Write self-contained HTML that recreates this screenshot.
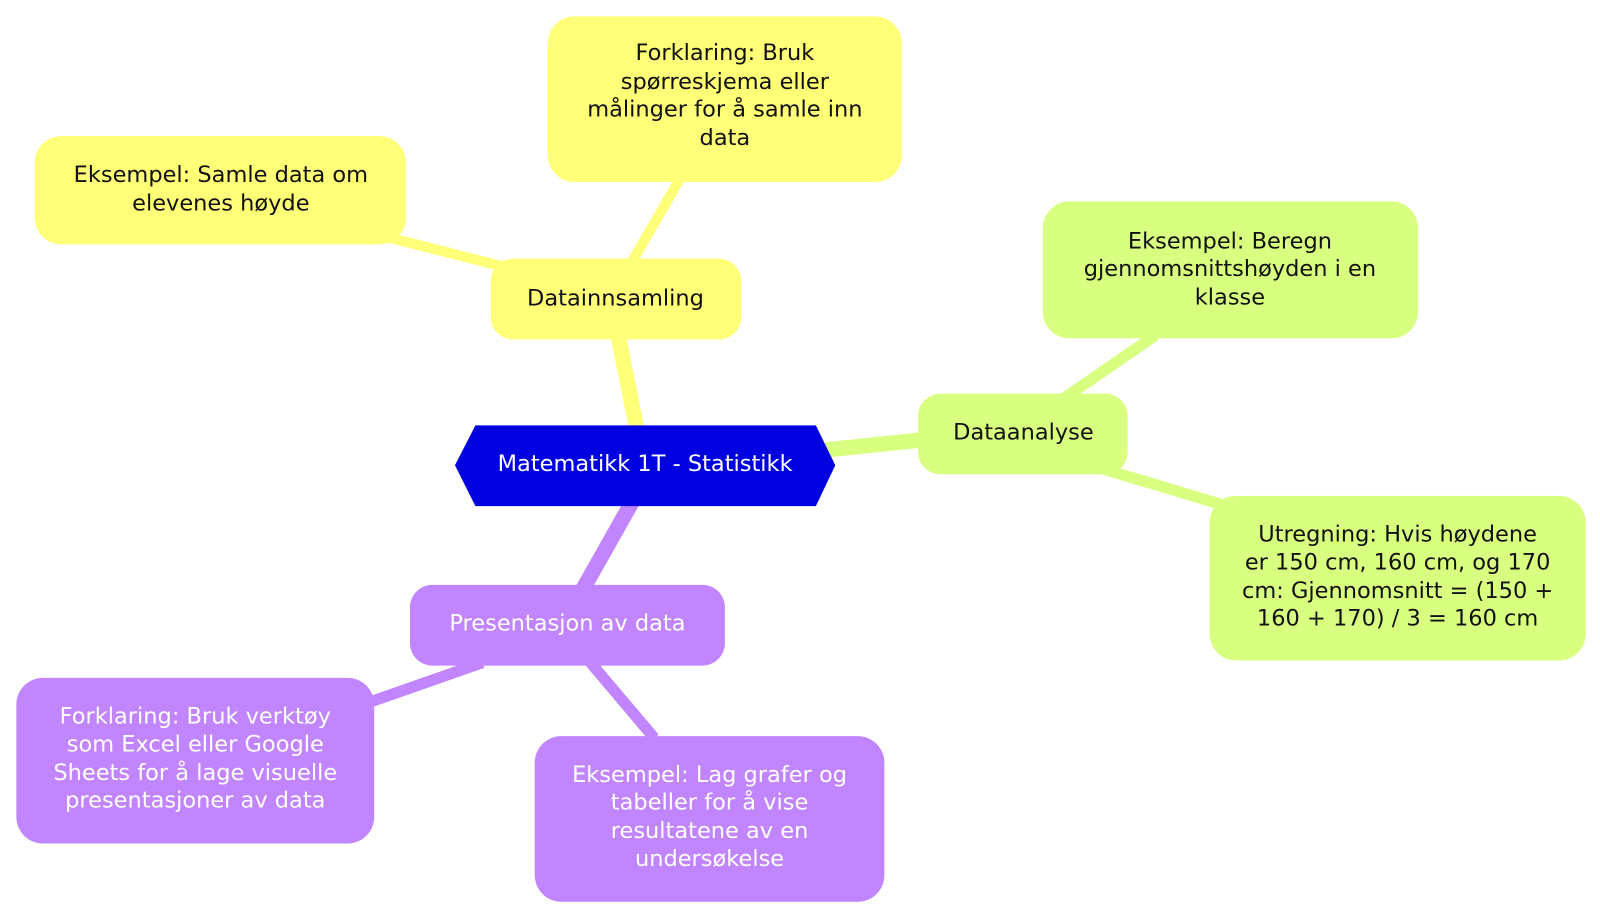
<!DOCTYPE html>
<html><head><meta charset="utf-8"><style>
html,body{margin:0;padding:0;background:#fff;}
svg{display:block}
text{font-family:"DejaVu Sans","Liberation Sans",sans-serif;font-size:22px;text-anchor:middle;dominant-baseline:central}
.d{fill:#111}
.w{fill:#fff}
</style></head><body>
<svg width="1600" height="916" viewBox="0 0 1600 916" xmlns="http://www.w3.org/2000/svg">
<g transform="scale(1.0224)">
<g stroke-linecap="butt">
<line x1="624" y1="425" x2="605" y2="330" stroke="#ffff78" stroke-width="15"/>
<line x1="617" y1="258" x2="665" y2="175" stroke="#ffff78" stroke-width="10"/>
<line x1="505" y1="264" x2="375" y2="231" stroke="#ffff78" stroke-width="10"/>
<line x1="808" y1="440" x2="905" y2="430" stroke="#d9ff80" stroke-width="15"/>
<line x1="1040" y1="390" x2="1130" y2="328" stroke="#d9ff80" stroke-width="11"/>
<line x1="1070" y1="456" x2="1200" y2="495" stroke="#d9ff80" stroke-width="11"/>
<line x1="620" y1="488" x2="568" y2="580" stroke="#c185ff" stroke-width="15"/>
<line x1="472" y1="648" x2="358" y2="688" stroke="#c185ff" stroke-width="11"/>
<line x1="575" y1="645" x2="640" y2="722" stroke="#c185ff" stroke-width="11"/>
</g>
<polygon points="445,455 465,416 798,416 817,455 798,495 465,495" fill="#0000e0"/>
<text class="w" x="631" y="454">Matematikk 1T - Statistikk</text>

<rect x="480" y="253" width="245" height="79" rx="22" fill="#ffff78"/>
<text class="d" x="602" y="292">Datainnsamling</text>
<rect x="536" y="16" width="346" height="162" rx="26" fill="#ffff78"/>
<text class="d" x="709" y="52">Forklaring: Bruk</text>
<text class="d" x="709" y="80">spørreskjema eller</text>
<text class="d" x="709" y="107">målinger for å samle inn</text>
<text class="d" x="709" y="135">data</text>
<rect x="34" y="133" width="363" height="106" rx="26" fill="#ffff78"/>
<text class="d" x="216" y="171">Eksempel: Samle data om</text>
<text class="d" x="216" y="199">elevenes høyde</text>

<rect x="898" y="385" width="205" height="79" rx="22" fill="#d9ff80"/>
<text class="d" x="1001" y="423">Dataanalyse</text>
<rect x="1020" y="197" width="367" height="134" rx="26" fill="#d9ff80"/>
<text class="d" x="1203" y="236">Eksempel: Beregn</text>
<text class="d" x="1203" y="263">gjennomsnittshøyden i en</text>
<text class="d" x="1203" y="291">klasse</text>
<rect x="1183" y="485" width="368" height="161" rx="26" fill="#d9ff80"/>
<text class="d" x="1367" y="523">Utregning: Hvis høydene</text>
<text class="d" x="1367" y="550">er 150 cm, 160 cm, og 170</text>
<text class="d" x="1367" y="578">cm: Gjennomsnitt = (150 +</text>
<text class="d" x="1367" y="605">160 + 170) / 3 = 160 cm</text>

<rect x="401" y="572" width="308" height="79" rx="22" fill="#c185ff"/>
<text class="w" x="555" y="610">Presentasjon av data</text>
<rect x="16" y="663" width="350" height="162" rx="26" fill="#c185ff"/>
<text class="w" x="191" y="701">Forklaring: Bruk verktøy</text>
<text class="w" x="191" y="728">som Excel eller Google</text>
<text class="w" x="191" y="756">Sheets for å lage visuelle</text>
<text class="w" x="191" y="783">presentasjoner av data</text>
<rect x="523" y="720" width="342" height="162" rx="26" fill="#c185ff"/>
<text class="w" x="694" y="758">Eksempel: Lag grafer og</text>
<text class="w" x="694" y="785">tabeller for å vise</text>
<text class="w" x="694" y="813">resultatene av en</text>
<text class="w" x="694" y="840">undersøkelse</text>
</g>
</svg>
</body></html>
